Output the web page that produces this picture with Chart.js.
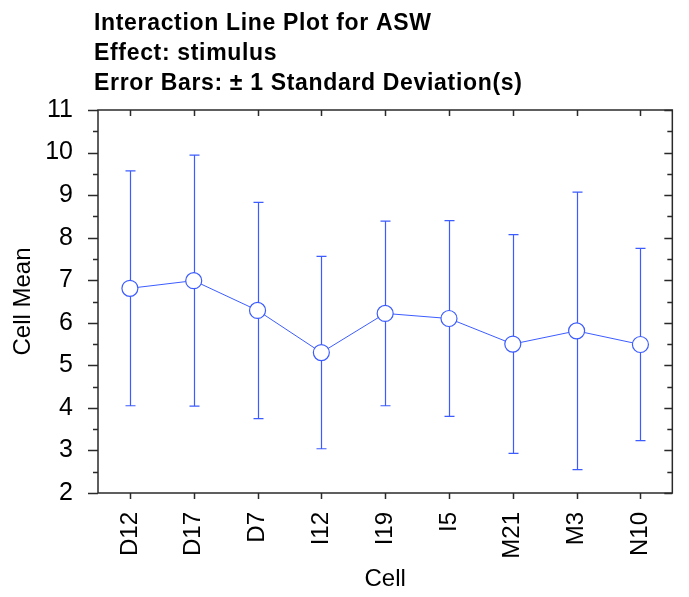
<!DOCTYPE html>
<html>
<head>
<meta charset="utf-8">
<script src="https://cdn.jsdelivr.net/npm/chart.js@4.4.1/dist/chart.umd.min.js"></script>
<style>
  html, body { margin: 0; padding: 0; background: #fff; }
</style>
</head>
<body>
<canvas id="myChart" width="689" height="597"></canvas>
<script>
// data
const cells = ['D12', 'D17', 'D7', 'I12', 'I19', 'I5', 'M21', 'M3', 'N10']
const cellMeans = [6.81, 6.99, 6.29, 5.30, 6.22, 6.10, 5.50, 5.81, 5.49]
const cellSD = [2.76, 2.95, 2.54, 2.26, 2.17, 2.30, 2.57, 3.26, 2.26]
const yMin = 2
const yMax = 11
const titleLines = [
  'Interaction Line Plot for ASW',
  'Effect: stimulus',
  'Error Bars: \u00b1 1 Standard Deviation(s)'
]

const blue = 'rgb(60, 92, 255)'
const frameColor = '#2a2a2a'
const sans = '"Liberation Sans", Arial, sans-serif'

// error bars go under the markers
const errorBars = {
  id: 'errorBars',
  beforeDatasetsDraw(chart) {
    const ctx = chart.ctx
    const x = chart.scales.x
    const y = chart.scales.y
    ctx.save()
    ctx.strokeStyle = blue
    ctx.lineWidth = 1.2
    cellMeans.forEach((m, i) => {
      const px = Math.round(x.getPixelForValue(i)) + 0.5
      const top = y.getPixelForValue(m + cellSD[i])
      const bot = y.getPixelForValue(m - cellSD[i])
      ctx.beginPath()
      ctx.moveTo(px, top); ctx.lineTo(px, bot)
      ctx.moveTo(px - 5, top); ctx.lineTo(px + 5, top)
      ctx.moveTo(px - 5, bot); ctx.lineTo(px + 5, bot)
      ctx.stroke()
    })
    ctx.restore()
  }
}

// box round the plot, with major and minor ticks
const frame = {
  id: 'frame',
  afterDraw(chart) {
    const ctx = chart.ctx
    const a = chart.chartArea
    const x = chart.scales.x
    const y = chart.scales.y
    ctx.save()
    ctx.strokeStyle = frameColor
    ctx.lineWidth = 1.5
    ctx.strokeRect(a.left, a.top, a.right - a.left, a.bottom - a.top)
    ctx.beginPath()
    for (let v = yMin; v <= yMax; v += 0.5) {
      const py = Math.round(y.getPixelForValue(v)) + 0.5
      const major = Number.isInteger(v)
      ctx.moveTo(a.left - (major ? 10 : 5), py); ctx.lineTo(a.left, py)
      ctx.moveTo(a.right, py); ctx.lineTo(a.right - (major ? 8 : 5), py)
    }
    cells.forEach((c, i) => {
      const px = Math.round(x.getPixelForValue(i)) + 0.5
      ctx.moveTo(px, a.bottom); ctx.lineTo(px, a.bottom + 6)
      ctx.moveTo(px, a.top); ctx.lineTo(px, a.top + 6)
    })
    ctx.stroke()
    ctx.restore()
  }
}

// three left aligned title lines, spaced out to the reference width
const titleBlock = {
  id: 'titleBlock',
  afterDraw(chart) {
    const ctx = chart.ctx
    ctx.save()
    ctx.fillStyle = '#000'
    ctx.font = 'bold 23px ' + sans
    ctx.textAlign = 'left'
    ctx.textBaseline = 'alphabetic'
    const last = titleLines[2]
    const w = ctx.measureText(last).width
    const spacing = Math.max(0, (428 - w) / (last.length - 1))
    if ('letterSpacing' in ctx) ctx.letterSpacing = spacing.toFixed(2) + 'px'
    const base = [30, 60, 90]
    titleLines.forEach((t, i) => ctx.fillText(t, 94, base[i]))
    ctx.restore()
  }
}

const cfg = {
  type: 'line',
  data: {
    labels: cells,
    datasets: [{
      label: 'ASW',
      data: cellMeans,
      borderColor: blue,
      borderWidth: 1,
      tension: 0,
      fill: false,
      pointRadius: 8,
      pointHoverRadius: 8,
      pointBackgroundColor: '#fff',
      pointBorderColor: blue,
      pointBorderWidth: 1.2
    }]
  },
  options: {
    responsive: false,
    animation: false,
    layout: { padding: { top: 110, right: 14, left: 0, bottom: 0 } },
    plugins: {
      legend: { display: false },
      title: { display: false },
      tooltip: { enabled: false }
    },
    scales: {
      x: {
        type: 'category',
        offset: true,
        grid: { display: false, drawTicks: false },
        border: { display: false },
        ticks: {
          color: '#000',
          font: { family: sans, size: 24 },
          minRotation: 90,
          maxRotation: 90,
          padding: 19,
          autoSkip: false
        },
        title: {
          display: true,
          text: 'Cell',
          color: '#000',
          font: { family: sans, size: 24 },
          padding: { top: 0, bottom: 3 }
        },
        afterFit(scale) { scale.height = 104 }
      },
      y: {
        min: yMin,
        max: yMax,
        grid: { display: false, drawTicks: false },
        border: { display: false },
        ticks: {
          stepSize: 1,
          color: '#000',
          font: { family: sans, size: 25 },
          padding: 25
        },
        title: {
          display: true,
          text: 'Cell Mean',
          color: '#000',
          font: { family: sans, size: 24 },
          padding: { top: 9, bottom: 0 }
        },
        afterFit(scale) { scale.width = 98 }
      }
    }
  },
  plugins: [errorBars, frame, titleBlock]
}

const myChart = new Chart(document.getElementById('myChart'), cfg)
</script>
</body>
</html>
